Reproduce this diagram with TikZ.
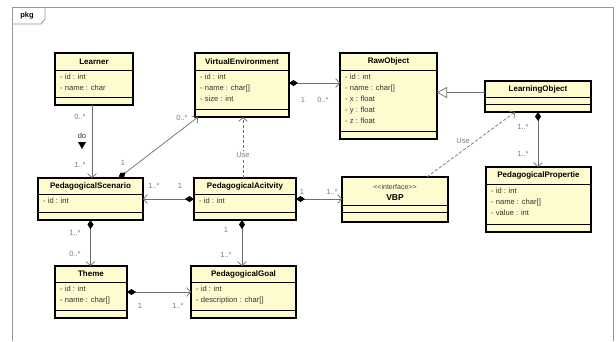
\documentclass[tikz,border=0pt]{standalone}
\usepackage{fontspec}
\setmainfont{Liberation Sans}
\usetikzlibrary{arrows.meta}
\definecolor{clsfill}{RGB}{254,252,206}
\definecolor{wire}{RGB}{110,110,110}
\definecolor{mult}{RGB}{125,125,125}
\definecolor{frm}{RGB}{150,150,150}

\begin{document}
\begin{tikzpicture}[x=1pt,y=-1pt,
    cls/.style={draw=black,line width=1.2pt,fill=clsfill,inner sep=0pt,outer sep=0pt},
    sep/.style={black,line width=0.9pt},
    ttl/.style={font=\fontsize{8}{9}\selectfont\bfseries,inner sep=0pt},
    attr/.style={font=\fontsize{7.6}{11}\selectfont,align=left,anchor=north west,inner sep=0pt,text=black!80},
    lbl/.style={font=\fontsize{7.5}{8}\selectfont,text=mult,inner sep=0pt},
    comp/.style={draw=wire,line width=0.7pt,{Diamond[length=9pt,width=6pt,color=black]}-{Straight Barb[length=4pt,width=9pt]}},
    plain/.style={draw=wire,line width=0.7pt,-{Straight Barb[length=4pt,width=9pt]}},
    use/.style={plain,dash pattern=on 3pt off 2pt},
    inherit/.style={draw=wire,line width=0.7pt,-{Triangle[open,length=10pt,width=11pt]}}]
    \useasboundingbox (0,0) rectangle (616,341);
    \fill[white] (0,0) rectangle (616,341);

    % package frame
    \draw[frm,line width=0.8pt] (12,341) -- (12,7) -- (613,7) -- (613,341);
    \draw[frm,line width=0.8pt] (12,24) -- (41,24) -- (45,19) -- (45,7);
    \node[ttl,font=\fontsize{7.5}{8}\selectfont\bfseries] (pkg) at (27,16) {pkg};

    % classes
    \node[cls,minimum width=78pt,minimum height=52pt] (learner) at (94,79) {};
    \node[ttl] (learnerT) at ([yshift=-8.5pt]learner.north) {Learner};
    \node[attr] (learnerA) at ([xshift=5pt,yshift=-21pt]learner.north west) {- id : int\\- name : char};

    \node[cls,minimum width=94pt,minimum height=64pt] (venv) at (242,85) {};
    \node[ttl] (venvT) at ([yshift=-8.5pt]venv.north) {VirtualEnvironment};
    \node[attr] (venvA) at ([xshift=5pt,yshift=-21pt]venv.north west) {- id : int\\- name : char[]\\- size : int};

    \node[cls,minimum width=97pt,minimum height=86pt] (raw) at (388.5,96) {};
    \node[ttl] (rawT) at ([yshift=-8.5pt]raw.north) {RawObject};
    \node[attr] (rawA) at ([xshift=5pt,yshift=-21pt]raw.north west) {- id : int\\- name : char[]\\- x : float\\- y : float\\- z : float};

    \node[cls,minimum width=106pt,minimum height=31pt] (lobj) at (538,96.5) {};
    \node[ttl] (lobjT) at ([yshift=-8pt]lobj.north) {LearningObject};

    \node[cls,minimum width=105pt,minimum height=42pt] (scen) at (90.5,199) {};
    \node[ttl] (scenT) at ([yshift=-8pt]scen.north) {PedagogicalScenario};
    \node[attr] (scenA) at ([xshift=5pt,yshift=-20pt]scen.north west) {- id : int};

    \node[cls,minimum width=102pt,minimum height=42pt] (act) at (245,199) {};
    \node[ttl] (actT) at ([yshift=-8pt]act.north) {PedagogicalAcitvity};
    \node[attr] (actA) at ([xshift=5pt,yshift=-20pt]act.north west) {- id : int};

    \node[cls,minimum width=106pt,minimum height=45pt] (vbp) at (395,199.5) {};
    \node[ttl,font=\fontsize{7}{8}\selectfont,text=black!75] (vbpS) at ([yshift=-10pt]vbp.north) {{<}{<}interface{>}{>}};
    \node[ttl,font=\fontsize{8.5}{9}\selectfont\bfseries] (vbpT) at ([yshift=-21pt]vbp.north) {VBP};

    \node[cls,minimum width=105pt,minimum height=65pt] (prop) at (538.5,199.5) {};
    \node[ttl] (propT) at ([yshift=-8.5pt]prop.north) {PedagogicalPropertie};
    \node[attr] (propA) at ([xshift=5pt,yshift=-21pt]prop.north west) {- id : int\\- name : char[]\\- value : int};

    \node[cls,minimum width=72pt,minimum height=52pt] (theme) at (91,292) {};
    \node[ttl] (themeT) at ([yshift=-8pt]theme.north) {Theme};
    \node[attr] (themeA) at ([xshift=5pt,yshift=-20pt]theme.north west) {- id : int\\- name : char[]};

    \node[cls,minimum width=105pt,minimum height=52pt] (goal) at (243.5,292) {};
    \node[ttl] (goalT) at ([yshift=-8pt]goal.north) {PedagogicalGoal};
    \node[attr] (goalA) at ([xshift=5pt,yshift=-20pt]goal.north west) {- id : int\\- description : char[]};

    % compartments
    \foreach \c/\h in {learner/-17pt,venv/-17pt,raw/-17pt,scen/-16pt,act/-16pt,theme/-16pt,goal/-16pt,prop/-17pt,lobj/-16pt}
        \draw[sep] ([yshift=\h]\c.north west) -- ([yshift=\h]\c.north east)
                   ([yshift=8pt]\c.south west) -- ([yshift=8pt]\c.south east);
    \draw[sep] ([yshift=-28pt]vbp.north west) -- ([yshift=-28pt]vbp.north east)
               ([yshift=10pt]vbp.south west) -- ([yshift=10pt]vbp.south east);

    % connectors
    \draw[plain] ([xshift=-2pt]learner.south) -- ([xshift=-2pt]learner.south |- scen.north);
    \node[lbl] (m1) at (80,117) {0..*};
    \node[lbl,text=black!80] (doL) at (82,136) {do};
    \fill[black] (78,142) -- (86,142) -- (82,149) -- cycle;
    \node[lbl] (m2) at (80,165) {1..*};

    \draw[comp] ([xshift=28pt]scen.north) -- ([xshift=3pt]venv.south west);
    \node[lbl] (m3) at (123,163) {1};
    \node[lbl] (m4) at (182,118) {0..*};

    \draw[comp] ([yshift=2pt]venv.east) -- ([yshift=2pt]venv.east -| raw.west);
    \node[lbl] (m5) at (303,100) {1};
    \node[lbl] (m6) at (323,100) {0..*};

    \draw[inherit] ([yshift=4pt]lobj.west) -- ([yshift=4pt]lobj.west -| raw.east);

    \draw[use] ([xshift=-2pt]act.north) -- ([xshift=-2pt]act.north |- venv.south);
    \node[lbl,fill=white,inner sep=1pt] (u1) at (243,155) {Use};

    \draw[comp] (act.west) -- (act.west -| scen.east);
    \node[lbl] (m7) at (154,186) {1..*};
    \node[lbl] (m8) at (180,186) {1};

    \draw[comp] (act.east) -- (act.east -| vbp.west);
    \node[lbl] (m9) at (302,192) {1};
    \node[lbl] (m10) at (332,192) {1..*};

    \draw[use] ([xshift=32pt]vbp.north) -- ([xshift=-23pt]lobj.south);
    \node[lbl] (u2) at (463,141) {Use};

    \draw[comp] (lobj.south) -- (lobj.south |- prop.north);
    \node[lbl] (m11) at (523,127) {1..*};
    \node[lbl] (m12) at (523,154) {1..*};

    \draw[comp] (scen.south) -- (scen.south |- theme.north);
    \node[lbl] (m13) at (75,233) {1..*};
    \node[lbl] (m14) at (75,254) {0..*};

    \draw[comp] ([xshift=-3pt]act.south) -- ([xshift=-3pt]act.south |- goal.north);
    \node[lbl] (m15) at (226,230) {1};
    \node[lbl] (m16) at (226,255) {1..*};

    \draw[comp] (theme.east) -- (theme.east -| goal.west);
    \node[lbl] (m17) at (140,306) {1};
    \node[lbl] (m18) at (178,306) {1..*};
\end{tikzpicture}
\end{document}
